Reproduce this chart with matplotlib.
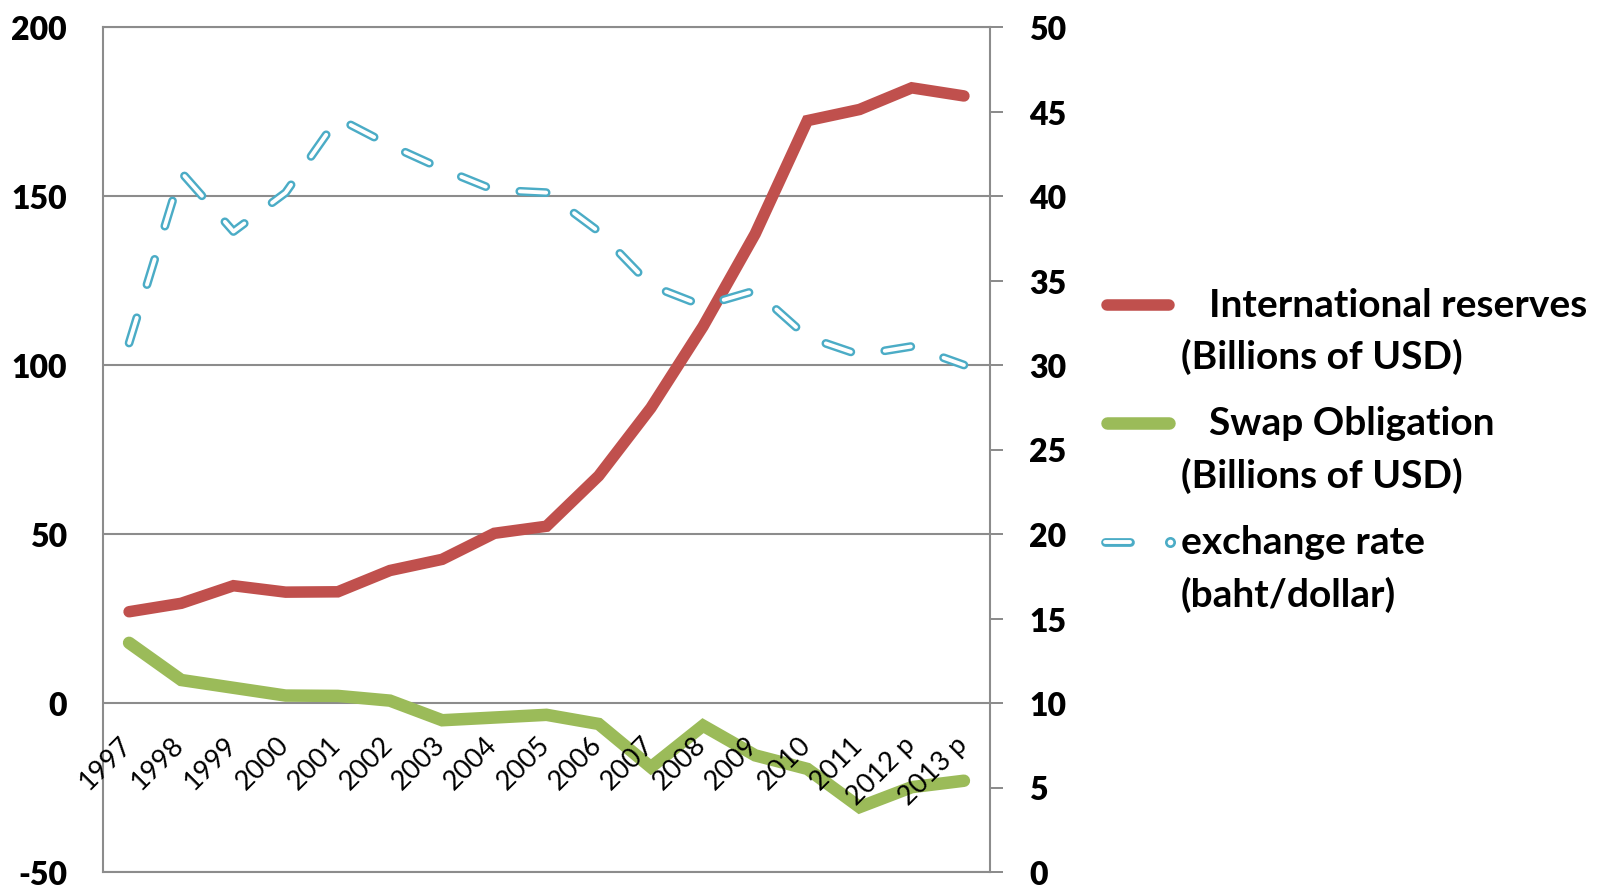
import matplotlib
matplotlib.use("Agg")
import matplotlib.pyplot as plt
from matplotlib.lines import Line2D
from matplotlib.transforms import offset_copy

plt.rcParams['font.family'] = ['Lato', 'DejaVu Sans']
plt.rcParams['font.weight'] = 'heavy'
plt.rcParams['lines.scale_dashes'] = False

# data
years = ['1997', '1998', '1999', '2000', '2001', '2002', '2003', '2004', '2005',
         '2006', '2007', '2008', '2009', '2010', '2011', '2012 p', '2013 p']
reserves = [27.0, 29.5, 34.7, 32.8, 32.9, 39.2, 42.5, 50.2, 52.3,
            67.2, 87.3, 111.4, 138.8, 172.3, 175.6, 182.0, 179.6]
swap = [17.8, 6.8, 4.5, 2.2, 2.1, 0.7, -5.1, -4.3, -3.5,
        -6.2, -19.0, -6.7, -15.5, -19.5, -30.8, -24.9, -23.0]
baht = [31.3, 41.4, 37.9, 40.2, 44.6, 43.0, 41.6, 40.35, 40.2,
        37.9, 34.7, 33.5, 34.4, 31.65, 30.6, 31.1, 30.0]

left_ticks = [-50, 0, 50, 100, 150, 200]
right_ticks = list(range(0, 55, 5))
legend_labels = ['  International reserves\n(Billions of USD)',
                 '  Swap Obligation\n(Billions of USD)',
                 'exchange rate\n(baht/dollar)']

RED = '#C0504D'
GREEN = '#9BBB59'
BLUE = '#4BACC6'
GRID = '#8C8C8C'

W, H = 1614, 895
fig = plt.figure(figsize=(W / 100, H / 100), dpi=100)
ax = fig.add_axes([103 / W, 1 - 873 / H, 887 / W, 845 / H])
ax2 = ax.twinx()

x = list(range(len(years)))

ax.plot(x, reserves, color=RED, lw=8.3, solid_capstyle='round', solid_joinstyle='miter')
ax.plot(x, swap, color=GREEN, lw=9, solid_capstyle='round', solid_joinstyle='miter')

# outlined dash line: thick blue dashes with white core
dash = (19, 25)
ax2.plot(x, baht, color=BLUE, lw=6.3, dashes=dash,
         dash_capstyle='round', dash_joinstyle='round')
ax2.plot(x, baht, color='white', lw=2.8, dashes=dash,
         dash_capstyle='round', dash_joinstyle='round')

ax.set_xlim(-0.5, len(years) - 0.5)
ax.set_ylim(-50, 200)
ax2.set_ylim(0, 50)

ax.set_yticks(left_ticks, labels=[str(v) for v in left_ticks])
ax.yaxis.grid(True, color=GRID, lw=1.5)
ax.tick_params(axis='y', length=0, pad=26, labelsize=23)
ax.set_xticks([])

ax2.set_yticks(right_ticks, labels=[str(v) for v in right_ticks])
ax2.tick_params(axis='y', direction='out', length=9.4, width=1.44, color=GRID,
                pad=18.7, labelsize=23)

for s in ['top', 'right', 'bottom']:
    ax.spines[s].set_visible(False)
ax.spines['left'].set_color(GRID)
ax.spines['left'].set_linewidth(1.5)
ax2.spines['left'].set_visible(False)
for s in ['top', 'right', 'bottom']:
    ax2.spines[s].set_color(GRID)
    ax2.spines[s].set_linewidth(1.5)

# category labels sit just under the zero line
lab_tr = offset_copy(ax.transData, fig=fig, x=8, y=-28, units='dots')
for i, yr in enumerate(years):
    ax.text(i, 0, yr, transform=lab_tr, rotation=45, ha='right', va='top',
            fontsize=19.5, fontweight='normal', zorder=5)


# legend drawn by hand in pixel positions
def fp(px, py):
    return px / W, 1 - py / H


def fig_line(xs, ys, **kw):
    fx = [fp(a, 0)[0] for a in xs]
    fy = [fp(0, b)[1] for b in ys]
    fig.add_artist(Line2D(fx, fy, transform=fig.transFigure, **kw))


fig_line([1107, 1169], [305.5, 305.5], color=RED, lw=8.3, solid_capstyle='round')
fig_line([1107, 1169], [424, 424], color=GREEN, lw=9, solid_capstyle='round')
fig_line([1105, 1130], [542.5, 542.5], color=BLUE, lw=6.3, solid_capstyle='round')
fig_line([1105, 1130], [542.5, 542.5], color='white', lw=2.8, solid_capstyle='round')
fig_line([1170], [542.5], marker='o', ms=6, mfc='white', mec=BLUE, mew=1.9, lw=0)

entry_y = [(305.5, 357), (424, 475.5), (542.5, 595)]
for lbl, (y1, y2) in zip(legend_labels, entry_y):
    first, second = lbl.split('\n')
    x1 = 1180.6
    if first.startswith('  '):
        x1 = 1209
    fig.text(*fp(x1, y1), first.strip(), ha='left', va='center',
             fontsize=28, fontweight='bold')
    fig.text(*fp(1180.6, y2), second, ha='left', va='center',
             fontsize=28, fontweight='bold')

fig.savefig('out.png', dpi=100)
